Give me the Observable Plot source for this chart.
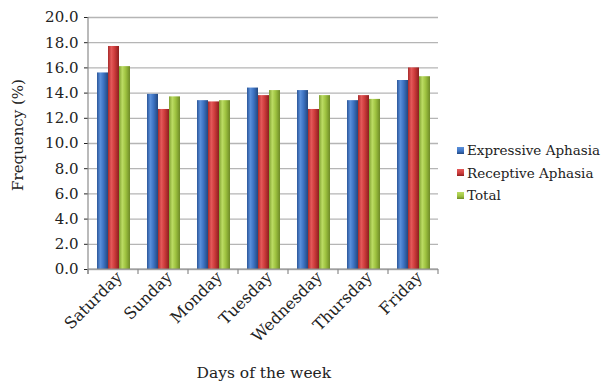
<!DOCTYPE html>
<html><head><meta charset="utf-8">
<script src="https://cdn.jsdelivr.net/npm/d3@7"></script>
<script src="https://cdn.jsdelivr.net/npm/@observablehq/plot@0.6"></script>
<style>
body{margin:0;background:#fff;}
#wrap{position:relative;width:607px;height:383px;font-family:"DejaVu Serif",serif;color:#222;overflow:hidden;}
#wrap svg{position:absolute;left:0;top:0;}
.ytitle{position:absolute;font-size:15px;white-space:nowrap;transform-origin:center;}
.xtitle{position:absolute;font-size:15.5px;white-space:nowrap;}
.legend{position:absolute;font-size:13.5px;line-height:22.5px;}
.legend div{display:flex;align-items:center;white-space:nowrap;}
.legend span.sw{display:inline-block;width:7px;height:7px;margin-right:3px;}
</style></head><body><div id="wrap"></div>
<script>
const days = ["Saturday","Sunday","Monday","Tuesday","Wednesday","Thursday","Friday"];
const series = ["Expressive Aphasia","Receptive Aphasia","Total"];
const expressive = [15.6,13.9,13.4,14.4,14.2,13.4,15.0];
const receptive = [17.7,12.7,13.3,13.8,12.7,13.8,16.0];
const total = [16.1,13.7,13.4,14.2,13.8,13.5,15.3];
const yTicks = [0,2,4,6,8,10,12,14,16,18,20];
const xTitle = "Days of the week";
const yTitle = "Frequency (%)";

const gradStops = [
  ["#2b5699","#5b90da","#3c72c2","#24487f"],
  ["#a82a2a","#e45a5a","#cd3b3b","#8c1f1f"],
  ["#7f9f30","#bcdc64","#9ec240","#6e8a27"]
];

const valuesBySeries = [expressive, receptive, total];
const data = [];
days.forEach((d, i) => series.forEach((s, j) => data.push({day: d, series: s, value: valuesBySeries[j][i]})));

const chart = Plot.plot({
  width: 607, height: 383,
  marginLeft: 88, marginRight: 169, marginTop: 17, marginBottom: 114,
  style: {fontFamily: "DejaVu Serif", fontSize: "15px", color: "#222", background: "transparent", overflow: "visible"},
  fx: {domain: days, padding: 0, label: null},
  x: {domain: series, paddingInner: 0.04, paddingOuter: 0.66, axis: null},
  y: {domain: [0, 20], ticks: yTicks, tickFormat: d => d.toFixed(1), label: null, tickSize: 4, tickPadding: 6},
  color: {domain: series, range: series.map((s, i) => `url(#grad${i})`)},
  marks: [
    Plot.gridY(yTicks, {stroke: "#b5b5b5", strokeOpacity: 1, strokeWidth: 1.3}),
    Plot.barY(data, {fx: "day", x: "series", y: "value", fill: "series"}),
    Plot.axisFx({anchor: "bottom", tickRotate: -45, fontSize: 16, tickSize: 0, tickPadding: 5, dx: 6, label: null})
  ]
});

// gradients
const ns = "http://www.w3.org/2000/svg";
const defs = document.createElementNS(ns, "defs");
gradStops.forEach((st, i) => {
  const g = document.createElementNS(ns, "linearGradient");
  g.setAttribute("id", "grad" + i);
  g.setAttribute("x1", "0"); g.setAttribute("x2", "1"); g.setAttribute("y1", "0"); g.setAttribute("y2", "0");
  [[0, st[0]], [0.3, st[1]], [0.6, st[2]], [1, st[3]]].forEach(([o, c]) => {
    const s = document.createElementNS(ns, "stop");
    s.setAttribute("offset", o); s.setAttribute("stop-color", c);
    g.appendChild(s);
  });
  defs.appendChild(g);
});
chart.insertBefore(defs, chart.firstChild);

// axis lines and boundary ticks from the plot's own scales
const fxs = chart.scale("fx");
const ys = chart.scale("y");
const fxBand = d3.scaleBand().domain(fxs.domain).range(fxs.range).padding(0);
const yLin = d3.scaleLinear().domain(ys.domain).range(ys.range);
const svg = d3.select(chart);
const g = svg.append("g").attr("stroke", "#8c8c8c").attr("stroke-width", 1.2);
const x0 = fxs.range[0], x1 = fxs.range[1];
g.append("line").attr("x1", x0).attr("x2", x0).attr("y1", yLin(ys.domain[1])).attr("y2", yLin(0) + 5);
g.append("line").attr("x1", x0).attr("x2", x1).attr("y1", yLin(0)).attr("y2", yLin(0));
days.forEach(d => {
  const bx = fxBand(d);
  g.append("line").attr("x1", bx).attr("x2", bx).attr("y1", yLin(0)).attr("y2", yLin(0) + 5);
});
g.append("line").attr("x1", x1).attr("x2", x1).attr("y1", yLin(0)).attr("y2", yLin(0) + 5);

const wrap = document.getElementById("wrap");
wrap.appendChild(chart);

// titles
const yt = document.createElement("div");
yt.className = "ytitle"; yt.textContent = yTitle;
wrap.appendChild(yt);
const w = yt.offsetWidth, h = yt.offsetHeight;
yt.style.left = (18 - w / 2) + "px";
yt.style.top = (135 - h / 2) + "px";
yt.style.transform = "rotate(-90deg)";

const xt = document.createElement("div");
xt.className = "xtitle"; xt.textContent = xTitle;
wrap.appendChild(xt);
xt.style.left = (264 - xt.offsetWidth / 2) + "px";
xt.style.top = (373 - xt.offsetHeight / 2) + "px";

// legend
const lg = document.createElement("div");
lg.className = "legend";
lg.style.left = "457px"; lg.style.top = "139px";
series.forEach((s, i) => {
  const row = document.createElement("div");
  const sw = document.createElement("span");
  sw.className = "sw";
  const st = gradStops[i];
  sw.style.background = `linear-gradient(to bottom, ${st[1]}, ${st[2]} 60%, ${st[3]})`;
  row.appendChild(sw);
  row.appendChild(document.createTextNode(s));
  lg.appendChild(row);
});
wrap.appendChild(lg);
</script>
</body></html>
